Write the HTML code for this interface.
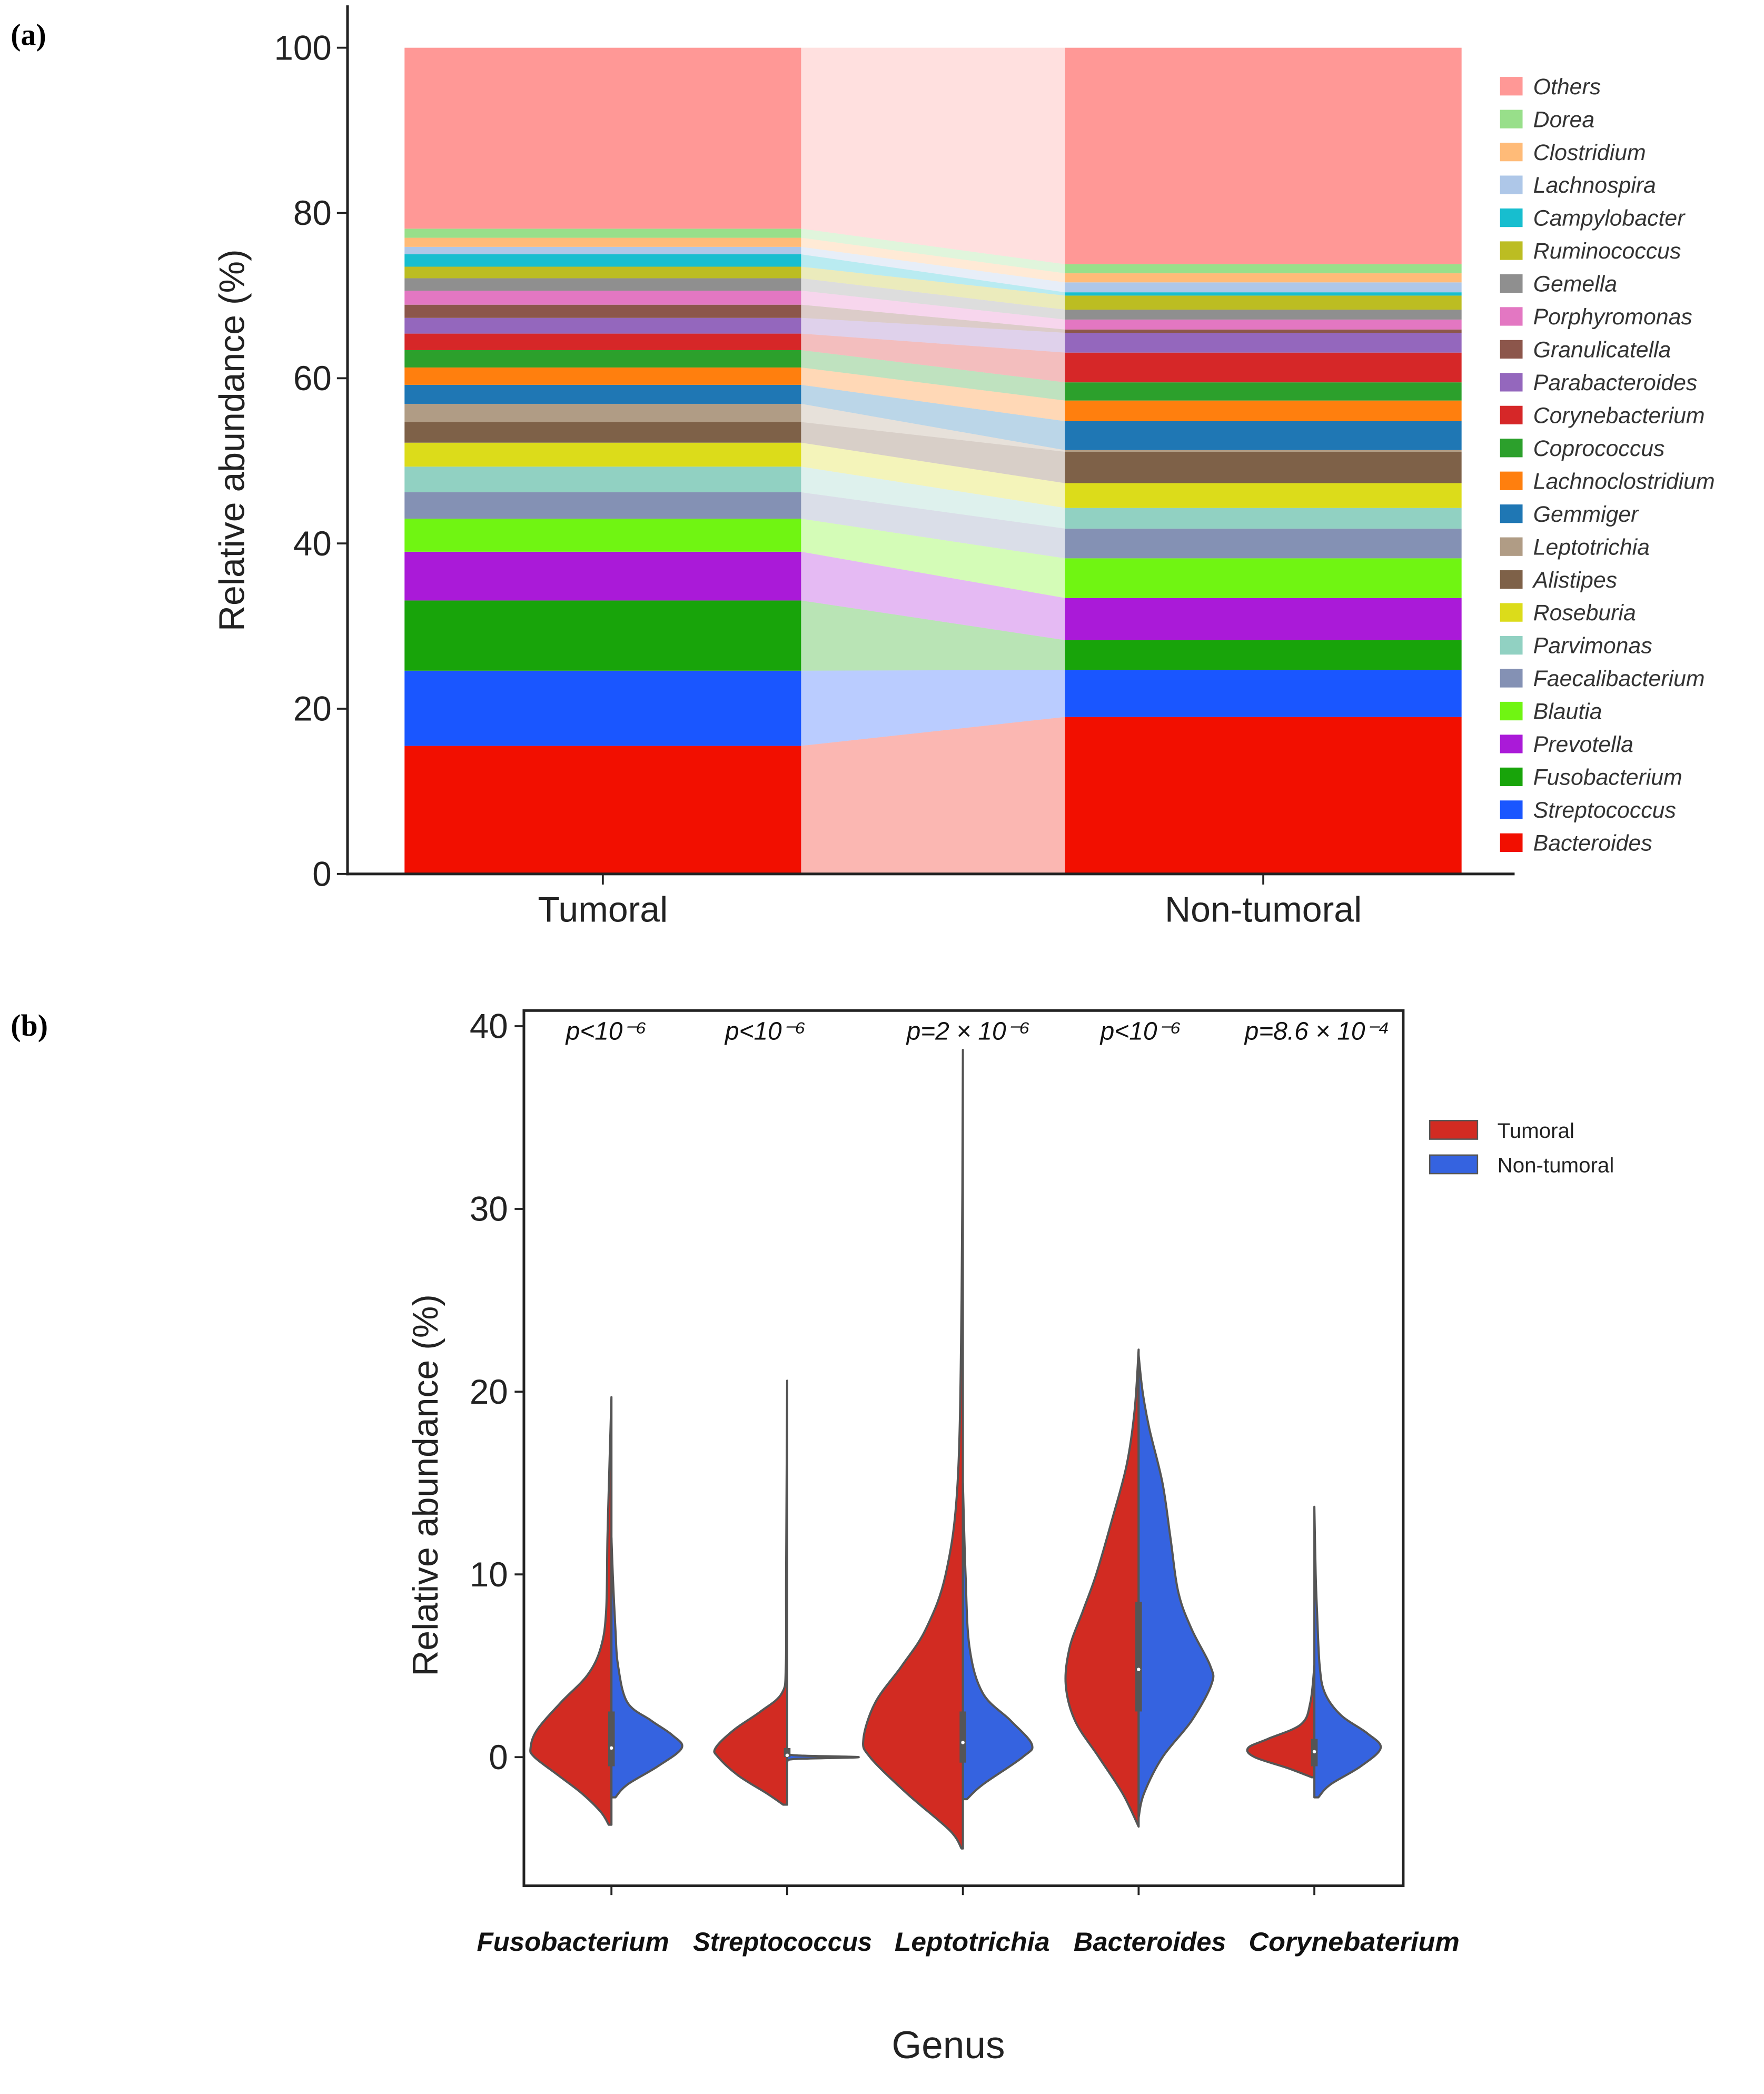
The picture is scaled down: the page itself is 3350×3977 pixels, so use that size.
<!DOCTYPE html>
<html><head><meta charset="utf-8"><style>
html,body{margin:0;padding:0;background:#fff;}
svg{display:block;font-family:"Liberation Sans",sans-serif;}
</style></head><body>
<svg id="fig" width="3350" height="3977" viewBox="0 0 1330 1579" xmlns="http://www.w3.org/2000/svg">
<text x="8" y="34" style="font-family:'Liberation Serif',serif" font-weight="bold" font-size="23">(a)</text>
<text x="8" y="781" style="font-family:'Liberation Serif',serif" font-weight="bold" font-size="23">(b)</text>
<g id="pa"></g>
<g id="pb"></g>
</svg>
<script>
const NS="http://www.w3.org/2000/svg";
const genera=["Bacteroides","Streptococcus","Fusobacterium","Prevotella","Blautia","Faecalibacterium","Parvimonas","Roseburia","Alistipes","Leptotrichia","Gemmiger","Lachnoclostridium","Coprococcus","Corynebacterium","Parabacteroides","Granulicatella","Porphyromonas","Gemella","Ruminococcus","Campylobacter","Lachnospira","Clostridium","Dorea","Others"];
const tumoralValues=[15.5,9.1,8.5,5.9,4.0,3.2,3.1,2.9,2.5,2.2,2.3,2.1,2.1,2.0,1.9,1.6,1.7,1.5,1.4,1.5,0.9,1.1,1.1,21.9];
const nonTumoralValues=[19.0,5.7,3.6,5.1,4.8,3.6,2.5,3.0,3.8,0.2,3.5,2.5,2.2,3.6,2.4,0.4,1.2,1.2,1.7,0.4,1.2,1.1,1.1,26.2];
const barCategories=["Tumoral","Non-tumoral"];
const yTicksA=[0,20,40,60,80,100];
const colors=["#f20f00","#1a56ff","#18a40a","#aa1ad8","#70f512","#8491b4","#91d1c2","#dcdc1a","#7e6148","#b09c85","#1f77b4","#ff7f0e","#2ca02c","#d62728","#9467bd","#8c564b","#e377c2","#8f8f8f","#bcbd22","#17becf","#aec7e8","#ffbb78","#98df8a","#ff9896"];

function el(tag,attrs,parent,txt){const e=document.createElementNS(NS,tag);for(const k in attrs)e.setAttribute(k,attrs[k]);if(txt!==undefined)e.textContent=txt;parent.appendChild(e);return e;}

// Panel A
const pa=document.getElementById('pa');
const yA=v=>659-v*6.23;
const barX=[305,803],barW=299;
const cumT=[],cumN=[];let s1=0,s2=0;
tumoralValues.forEach(v=>{cumT.push([s1,s1+v]);s1+=v;});
nonTumoralValues.forEach(v=>{cumN.push([s2,s2+v]);s2+=v;});
genera.forEach((g,i)=>{
  const b=el('polygon',{points:`${barX[0]+barW},${yA(cumT[i][0])} ${barX[1]},${yA(cumN[i][0])} ${barX[1]},${yA(cumN[i][1])} ${barX[0]+barW},${yA(cumT[i][1])}`,fill:colors[i],'fill-opacity':0.3},pa);
  
  
  const r1=el('rect',{x:barX[0],y:yA(cumT[i][1]),width:barW,height:yA(cumT[i][0])-yA(cumT[i][1]),fill:colors[i]},pa);
  
  
  const r2=el('rect',{x:barX[1],y:yA(cumN[i][1]),width:barW,height:yA(cumN[i][0])-yA(cumN[i][1]),fill:colors[i]},pa);
  
  
});
el('line',{x1:262,y1:4,x2:262,y2:660,stroke:'#222','stroke-width':2},pa);
el('line',{x1:261,y1:659,x2:1142,y2:659,stroke:'#222','stroke-width':2},pa);
yTicksA.forEach(t=>{
  el('line',{x1:254,y1:yA(t),x2:262,y2:yA(t),stroke:'#222','stroke-width':1.5},pa);
  const tx=el('text',{x:250,y:yA(t)+9,'text-anchor':'end','font-size':26,fill:'#222'},pa,String(t));
  
  
});
barCategories.forEach((c,i)=>{
  const cx=barX[i]+barW/2;
  el('line',{x1:cx,y1:659,x2:cx,y2:667,stroke:'#222','stroke-width':1.5},pa);
  const tx=el('text',{x:cx,y:695,'text-anchor':'middle','font-size':27,fill:'#222'},pa,c);
  
  
});
const yt=el('text',{x:0,y:0,transform:'translate(184,332) rotate(-90)','text-anchor':'middle','font-size':27,fill:'#222'},pa,'Relative abundance (%)');


for(let k=0;k<genera.length;k++){
  const i=genera.length-1-k;const y=65+k*24.8;
  const lg=el('g',{},pa);
  
  
  el('rect',{x:1131,y:y-7,width:17,height:14,fill:colors[i]},lg);
  el('text',{x:1156,y:y+6,'font-size':17,'font-style':'italic',fill:'#333'},lg,genera[i]);
}

// Panel B
const pb=document.getElementById('pb');
const violinCats=["Fusobacterium","Streptococcus","Leptotrichia","Bacteroides","Corynebaterium"];
const pLabels=["p<10\u207B\u2076","p<10\u207B\u2076","p=2 \u00D7 10\u207B\u2076","p<10\u207B\u2076","p=8.6 \u00D7 10\u207B\u2074"];
const yTicksB=[0,10,20,30,40];
const redFuso=[[-3.7,2],[-3,8],[-2,22],[-1,40],[0,58],[0.5,61],[1.5,56],[3,38],[4.5,18],[6,8],[8,4],[12,3],[16,1.5],[19.7,0]];
const blueFuso=[[-2.2,3],[-1.5,12],[-0.5,35],[0.5,53],[1.2,46],[2,30],[3,12],[5,5],[7,3],[10,1],[12,0]];
const redStrep=[[-2.6,3],[-2,15],[-1,37],[0,52],[0.5,54],[1.5,40],[2.5,20],[3.5,4],[5,1],[10,0.8],[20.6,0]];
const blueStrep=[[-0.25,0],[-0.1,6],[0,54],[0.1,6],[0.3,0]];
const redLepto=[[-5,1],[-4,10],[-2,42],[0,70],[1,75],[3,66],[5,46],[7,28],[10,13],[15,4],[25,1],[38.7,0]];
const blueLepto=[[-2.3,3],[-1.5,15],[0,45],[0.7,52],[2,36],[3.5,15],[6,5],[10,2],[15,0]];
const redBact=[[-3.8,0],[-2,12],[0,30],[2,48],[4,55],[6,52],[8,42],[10,32],[13,20],[16,9],[19,3],[22.3,0]];
const blueBact=[[-3.3,0],[-2,4],[0,18],[2,40],[4,55],[5,54],[7,40],[9,30],[12,24],[15,18],[18,8],[20,3],[22,0]];
const redCory=[[-1.1,2],[-0.6,20],[0,45],[0.5,50],[1,35],[1.8,10],[3,3],[5,0]];
const blueCory=[[-2.2,3],[-1.5,12],[-0.5,35],[0.5,50],[1.3,40],[2.3,20],[3.5,8],[5,4],[8,2],[10,1],[13.7,0]];
const redProfiles=[redFuso,redStrep,redLepto,redBact,redCory];
const blueProfiles=[blueFuso,blueStrep,blueLepto,blueBact,blueCory];
const boxQ1=[-0.5,0,-0.3,2.5,-0.5];
const boxQ3=[2.5,0.5,2.5,8.5,1];
const medians=[0.5,0.1,0.8,4.8,0.3];

const yB=v=>1325-v*13.78;
const xB=i=>461+i*132.5;
const labelX=[432,590,733,867,1021];
const labelW=[145,135,117,115,159];
const pX=[457,577,730,860,993];
el('rect',{x:395,y:762,width:663,height:660,fill:'none',stroke:'#222','stroke-width':2},pb);

function smoothPath(pts){let d=`M${pts[0][0]},${pts[0][1]}`;
  for(let i=0;i<pts.length-1;i++){const p0=pts[Math.max(0,i-1)],p1=pts[i],p2=pts[i+1],p3=pts[Math.min(pts.length-1,i+2)];
    const c1=[p1[0]+(p2[0]-p0[0])/6,p1[1]+(p2[1]-p0[1])/6],c2=[p2[0]-(p3[0]-p1[0])/6,p2[1]-(p3[1]-p1[1])/6];
    d+=` C${c1[0]},${c1[1]} ${c2[0]},${c2[1]} ${p2[0]},${p2[1]}`;}
  return d;}
violinCats.forEach((c,i)=>{
  const cx=xB(i);
  [[redProfiles[i],-1,'#d22b22','red'],[blueProfiles[i],1,'#3563e0','blue']].forEach(([prof,dir,col,nm])=>{
    const pts=prof.map(p=>[cx+dir*p[1],yB(p[0])]);
    const d=smoothPath(pts)+` L${cx},${yB(prof[prof.length-1][0])} L${cx},${yB(prof[0][0])} Z`;
    const v=el('path',{d:d,fill:col,stroke:'#555','stroke-width':1.6,'stroke-linejoin':'round'},pb);
    
    
  });
  el('rect',{x:cx-2.5,y:yB(boxQ3[i]),width:5,height:yB(boxQ1[i])-yB(boxQ3[i]),fill:'#555'},pb);
  el('circle',{cx:cx,cy:yB(medians[i]),r:1.3,fill:'#fff'},pb);
  el('line',{x1:cx,y1:1422,x2:cx,y2:1429,stroke:'#222','stroke-width':1.5},pb);
  const tl=el('text',{x:labelX[i],y:1471,'text-anchor':'middle','font-size':20,'font-weight':'bold','font-style':'italic',fill:'#111',textLength:labelW[i],lengthAdjust:'spacingAndGlyphs'},pb,c);
  
  
  const pl=el('text',{x:pX[i],y:784,'text-anchor':'middle','font-size':19,'font-style':'italic',fill:'#111'},pb,pLabels[i]);
  
  
});
yTicksB.forEach(t=>{
  el('line',{x1:388,y1:yB(t),x2:395,y2:yB(t),stroke:'#222','stroke-width':1.5},pb);
  const tx=el('text',{x:383,y:yB(t)+9,'text-anchor':'end','font-size':26,fill:'#222'},pb,String(t));
  
  
});
const ytb=el('text',{x:0,y:0,transform:'translate(330,1120) rotate(-90)','text-anchor':'middle','font-size':27,fill:'#222'},pb,'Relative abundance (%)');


const xtb=el('text',{x:715,y:1552,'text-anchor':'middle','font-size':29,fill:'#222'},pb,'Genus');


[["Tumoral","#d22b22",852],["Non-tumoral","#3563e0",878]].forEach(([n,c,y])=>{
  const g=el('g',{},pb);
  
  
  el('rect',{x:1078,y:y-7,width:36,height:14,fill:c,stroke:'#555','stroke-width':1},g);
  el('text',{x:1129,y:y+6,'font-size':16,fill:'#222'},g,n);
});
</script>
</body></html>
